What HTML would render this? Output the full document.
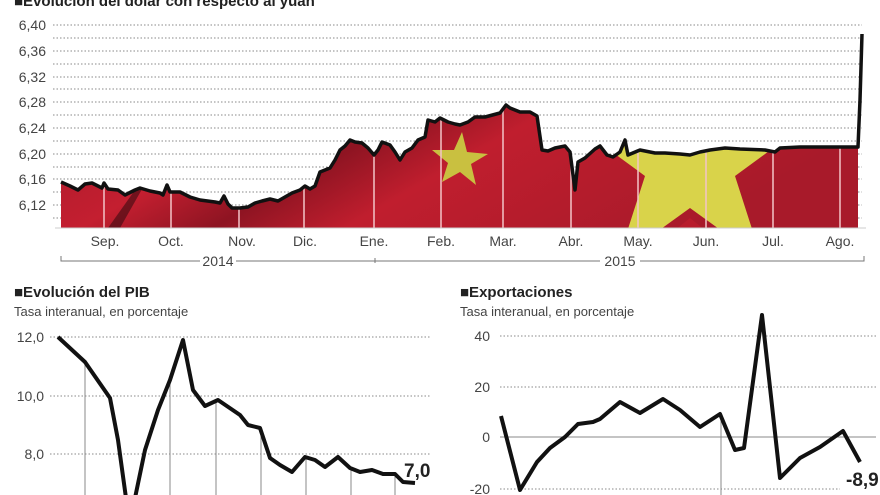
<!DOCTYPE html>
<html><head><meta charset="utf-8"><style>
html,body{margin:0;padding:0;background:#fff;width:880px;height:495px;overflow:hidden}
svg{display:block;font-family:"Liberation Sans",sans-serif}
</style></head><body>
<svg width="880" height="495" viewBox="0 0 880 495" xmlns="http://www.w3.org/2000/svg">
<defs>
<linearGradient id="rg" x1="0" y1="0" x2="1" y2="0.3">
<stop offset="0" stop-color="#a3182a"/><stop offset="0.3" stop-color="#c41f30"/><stop offset="0.45" stop-color="#8e1422"/><stop offset="0.6" stop-color="#c01e2e"/><stop offset="1" stop-color="#a81a2a"/>
</linearGradient>
<clipPath id="cp"><path d="M61,182 L70,186 78,190 85,184 92,183 98,186 102,188 104,183 108,189 118,190 125,195 135,190 140,188 150,191 160,193 163,195 167,185 170,192 180,192 190,197 200,200 215,202 220,203 224,196 228,204 232,208 240,208 248,207 255,203 262,201 270,199 278,201 285,197 292,193 300,190 305,186 310,189 315,186 320,172 330,168 335,160 340,150 345,146 350,140 355,142 362,143 368,148 374,155 378,150 382,142 390,145 395,152 400,160 405,152 412,148 418,140 425,137 428,120 435,122 440,118 448,122 455,124 460,125 468,122 475,117 485,117 500,113 506,105 510,108 520,112 530,112 537,116 542,150 548,151 555,148 565,146 570,152 575,190 578,162 585,158 595,149 600,146 607,155 613,157 620,152 625,140 628,155 640,150 655,153 665,153 680,154 690,155 700,152 710,150 725,148 740,149 765,150 775,152 780,148 800,147 830,147 858,147 L858,228 L61,228 Z"/></clipPath>
</defs>
<text x="14" y="6" font-size="15" font-weight="bold" fill="#222">■Evolución del dólar con respecto al yuan</text>
<g stroke="#888" stroke-width="1" stroke-dasharray="1.5,2">
<line x1="53" y1="25" x2="862" y2="25"/><line x1="53" y1="38" x2="862" y2="38"/><line x1="53" y1="51" x2="862" y2="51"/><line x1="53" y1="64" x2="862" y2="64"/><line x1="53" y1="77" x2="862" y2="77"/><line x1="53" y1="89" x2="862" y2="89"/><line x1="53" y1="102" x2="862" y2="102"/><line x1="53" y1="115" x2="862" y2="115"/><line x1="53" y1="128" x2="862" y2="128"/><line x1="53" y1="141" x2="862" y2="141"/><line x1="53" y1="154" x2="862" y2="154"/><line x1="53" y1="167" x2="862" y2="167"/><line x1="53" y1="179" x2="862" y2="179"/><line x1="53" y1="192" x2="862" y2="192"/><line x1="53" y1="205" x2="862" y2="205"/><line x1="53" y1="218" x2="862" y2="218"/>
</g>
<g font-size="14" fill="#444" text-anchor="end">
<text x="46" y="30">6,40</text><text x="46" y="56">6,36</text><text x="46" y="82">6,32</text><text x="46" y="107">6,28</text><text x="46" y="133">6,24</text><text x="46" y="159">6,20</text><text x="46" y="184">6,16</text><text x="46" y="210">6,12</text>
</g>
<g clip-path="url(#cp)">
<rect x="55" y="90" width="810" height="140" fill="url(#rg)"/>
<polygon points="108,228 135,190 150,175 120,228" fill="#3a0a10" opacity="0.6"/>
<polygon points="690,40 718,124 806,124 735,176 762,260 690,208 618,260 645,176 574,124 662,124" fill="#d9d34a"/>
<polygon points="690,218 705,230 675,230" fill="#b81c2c"/>
<polygon points="462,132 467,152 488,154 471,164 476,185 460,172 442,182 448,163 432,150 454,150" fill="#c9c040"/>
<g stroke="#f3c4c8" stroke-width="1.5"><line x1="104" y1="80" x2="104" y2="228"/><line x1="171" y1="80" x2="171" y2="228"/><line x1="239" y1="80" x2="239" y2="228"/><line x1="304" y1="80" x2="304" y2="228"/><line x1="374" y1="80" x2="374" y2="228"/><line x1="441" y1="80" x2="441" y2="228"/><line x1="503" y1="80" x2="503" y2="228"/><line x1="571" y1="80" x2="571" y2="228"/><line x1="638" y1="80" x2="638" y2="228"/><line x1="706" y1="80" x2="706" y2="228"/><line x1="773" y1="80" x2="773" y2="228"/><line x1="840" y1="80" x2="840" y2="228"/></g>
</g>
<path d="M61,182 L70,186 78,190 85,184 92,183 98,186 102,188 104,183 108,189 118,190 125,195 135,190 140,188 150,191 160,193 163,195 167,185 170,192 180,192 190,197 200,200 215,202 220,203 224,196 228,204 232,208 240,208 248,207 255,203 262,201 270,199 278,201 285,197 292,193 300,190 305,186 310,189 315,186 320,172 330,168 335,160 340,150 345,146 350,140 355,142 362,143 368,148 374,155 378,150 382,142 390,145 395,152 400,160 405,152 412,148 418,140 425,137 428,120 435,122 440,118 448,122 455,124 460,125 468,122 475,117 485,117 500,113 506,105 510,108 520,112 530,112 537,116 542,150 548,151 555,148 565,146 570,152 575,190 578,162 585,158 595,149 600,146 607,155 613,157 620,152 625,140 628,155 640,150 655,153 665,153 680,154 690,155 700,152 710,150 725,148 740,149 765,150 775,152 780,148 800,147 830,147 858,147 860,100 862,34" fill="none" stroke="#111" stroke-width="3.5" stroke-linejoin="round"/>
<line x1="55" y1="228" x2="866" y2="228" stroke="#ccc" stroke-width="1"/>
<g font-size="14" fill="#444" text-anchor="middle">
<text x="105" y="246">Sep.</text><text x="171" y="246">Oct.</text><text x="242" y="246">Nov.</text><text x="305" y="246">Dic.</text><text x="374" y="246">Ene.</text><text x="441" y="246">Feb.</text><text x="503" y="246">Mar.</text><text x="571" y="246">Abr.</text><text x="638" y="246">May.</text><text x="706" y="246">Jun.</text><text x="773" y="246">Jul.</text><text x="840" y="246">Ago.</text>
<text x="218" y="266">2014</text><text x="620" y="266">2015</text>
</g>
<g stroke="#777" stroke-width="1" fill="none">
<path d="M61,256 V261 H200 M236,261 H375 M375,258 V263 M375,261 H600 M640,261 H864 V256"/>
</g>
<text x="14" y="297" font-size="15" font-weight="bold" fill="#222">■Evolución del PIB</text>
<text x="14" y="316" font-size="13" fill="#444">Tasa interanual, en porcentaje</text>
<g stroke="#888" stroke-dasharray="1.5,2"><line x1="50" y1="337" x2="430" y2="337"/><line x1="50" y1="396" x2="430" y2="396"/><line x1="50" y1="454" x2="430" y2="454"/></g>
<g font-size="14" fill="#444" text-anchor="end"><text x="44" y="342">12,0</text><text x="44" y="401">10,0</text><text x="44" y="459">8,0</text></g>
<g stroke="#888" stroke-width="1"><line x1="85" y1="362" x2="85" y2="495"/><line x1="170" y1="380" x2="170" y2="495"/><line x1="216" y1="400" x2="216" y2="495"/><line x1="261" y1="428" x2="261" y2="495"/><line x1="306" y1="457" x2="306" y2="495"/><line x1="351" y1="468" x2="351" y2="495"/><line x1="395" y1="474" x2="395" y2="495"/></g>
<path d="M58,337 L85,362 110,398 118,440 126,498 135,498 145,450 158,410 170,380 183,340 193,390 205,406 218,400 240,415 248,425 260,428 270,458 280,465 292,472 305,457 315,460 325,467 338,457 350,468 360,472 372,470 383,474 395,474 403,482 415,483" fill="none" stroke="#111" stroke-width="4" stroke-linejoin="round"/>
<text x="404" y="477" font-size="19" font-weight="bold" fill="#222">7,0</text>
<text x="460" y="297" font-size="15" font-weight="bold" fill="#222">■Exportaciones</text>
<text x="460" y="316" font-size="13" fill="#444">Tasa interanual, en porcentaje</text>
<g stroke="#888" stroke-dasharray="1.5,2"><line x1="500" y1="336" x2="876" y2="336"/><line x1="500" y1="387" x2="876" y2="387"/><line x1="500" y1="489" x2="840" y2="489"/></g>
<line x1="500" y1="437" x2="876" y2="437" stroke="#888"/>
<line x1="721" y1="414" x2="721" y2="495" stroke="#888"/>
<g font-size="14" fill="#444" text-anchor="end"><text x="490" y="341">40</text><text x="490" y="392">20</text><text x="490" y="442">0</text><text x="490" y="494">-20</text></g>
<path d="M501,416 L520,490 537,462 550,448 565,437 578,424 593,422 600,419 620,402 640,413 663,399 680,410 700,427 720,414 735,450 744,448 762,315 780,478 800,458 820,447 843,431 860,462" fill="none" stroke="#111" stroke-width="4" stroke-linejoin="round"/>
<text x="846" y="486" font-size="19" font-weight="bold" fill="#222">-8,9</text>
</svg>
</body></html>
